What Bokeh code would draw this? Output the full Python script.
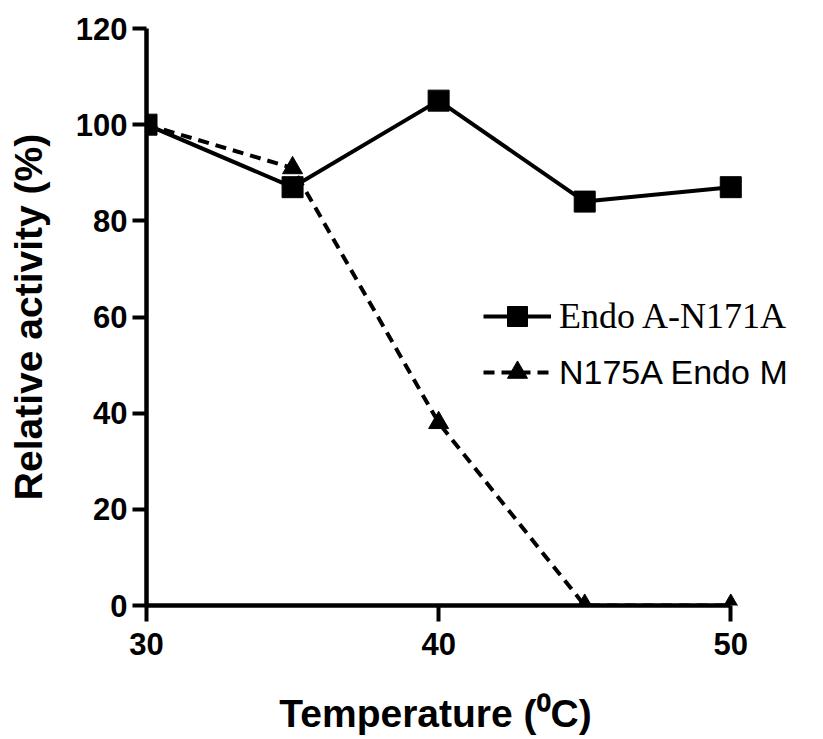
from bokeh.plotting import figure
from bokeh.models import Range1d, FixedTicker, Legend, LegendItem, Label
from bokeh.embed import file_html
from bokeh.resources import INLINE

# ---- data ----
temps = [30, 35, 40, 45, 50]
endo_a = [100, 87, 105, 84, 87]
endo_m = [100, 91, 38, 0, 0]
x_ticks = [30, 40, 50]
y_ticks = [0, 20, 40, 60, 80, 100, 120]
name_a = "Endo A-N171A"
name_m = "N175A Endo M"
x_title = "Temperature (\u2070C)"
y_title = "Relative activity (%)"

p = figure(frame_width=669, frame_height=577,
           x_range=Range1d(30, 52.9), y_range=Range1d(0, 120),
           output_backend="svg", toolbar_location=None,
           min_border_left=146, min_border_right=0,
           min_border_top=28, min_border_bottom=132)
p.outline_line_color = None
p.grid.visible = False
p.background_fill_color = "white"
p.border_fill_color = "white"

lm = p.line(temps, endo_m, line_width=4, line_color="black", line_dash="11 7")
sm = p.scatter(temps, endo_m, marker="triangle", size=20, color="black")
la = p.line(temps, endo_a, line_width=4, line_color="black")
sa = p.scatter(temps, endo_a, marker="square", size=21, color="black")

for ax in (p.xaxis[0], p.yaxis[0]):
    ax.axis_line_width = 4.5
    ax.axis_line_color = "black"
    ax.major_tick_line_width = 4
    ax.major_tick_line_color = "black"
    ax.minor_tick_line_color = None
    ax.major_tick_in = 0
    ax.major_label_text_font = "Liberation Sans"
    ax.major_label_text_font_style = "bold"
    ax.major_label_text_font_size = "31px"
    ax.major_label_text_color = "black"
    ax.axis_label_text_font = "Liberation Sans"
    ax.axis_label_text_font_style = "bold"
    ax.axis_label_text_font_size = "39px"
    ax.axis_label_text_color = "black"

xa = p.xaxis[0]
xa.ticker = FixedTicker(ticks=x_ticks)
xa.bounds = (30, 50)
xa.major_tick_out = 16
xa.major_label_standoff = 11

ya = p.yaxis[0]
ya.ticker = FixedTicker(ticks=y_ticks)
ya.bounds = (0, 120)
ya.major_tick_out = 14
ya.major_label_standoff = 5
ya.axis_label = y_title
ya.axis_label_standoff = 23

# x-axis title: a label in the bottom side panel (outside the axis panel),
# centred under the 30..50 axis span
xlab = Label(x=289, y=-13, x_units="screen", y_units="screen", text=x_title,
             text_align="center", text_baseline="alphabetic",
             text_font="Liberation Sans", text_font_style="bold",
             text_font_size="39px", text_color="black")
p.add_layout(xlab, "below")

leg1 = Legend(items=[LegendItem(label=name_a, renderers=[la, sa])],
              location=(337, 264), glyph_width=68, glyph_height=50,
              label_standoff=8, padding=0, margin=0,
              border_line_color=None, background_fill_alpha=0,
              label_text_font="Liberation Serif", label_text_font_size="36px",
              label_text_color="black")
leg2 = Legend(items=[LegendItem(label=name_m, renderers=[lm, sm])],
              location=(337, 208), glyph_width=68, glyph_height=50,
              label_standoff=8, padding=0, margin=0,
              border_line_color=None, background_fill_alpha=0,
              label_text_font="Liberation Sans", label_text_font_size="34px",
              label_text_color="black")
p.add_layout(leg1)
p.add_layout(leg2)

open("out.html", "w").write(file_html(p, INLINE))
